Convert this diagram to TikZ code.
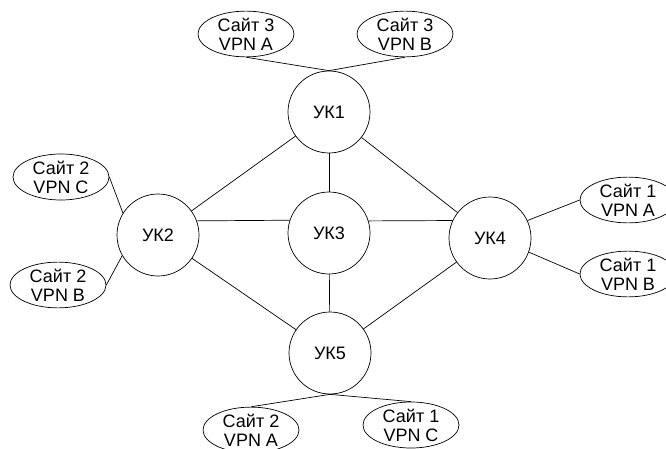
\documentclass[tikz,border=0pt]{standalone}
\usepackage{fontspec}
\setmainfont{Liberation Sans}
\usetikzlibrary{shapes.geometric}

\begin{document}
\begin{tikzpicture}[x=1pt, y=1pt, line width=0.7pt,
    router/.style = {draw, circle, minimum size=82pt, inner sep=0pt,
                     font=\fontsize{18}{19}\selectfont},
    site/.style = {draw, ellipse, minimum width=96pt, minimum height=40pt,
                   inner sep=0pt, align=center,
                   font=\fontsize{18}{19}\selectfont}]
  \useasboundingbox (0,0) rectangle (666,448);

  \node[router] (uk1) at (329,336) {УК1};
  \node[router] (uk2) at (158,213) {УК2};
  \node[router] (uk3) at (329,215) {УК3};
  \node[router] (uk4) at (490,210) {УК4};
  \node[router] (uk5) at (330,95) {УК5};

  \node[site] (s3a) at (246,414) {Сайт 3\\VPN A};
  \node[site] (s3b) at (405,414) {Сайт 3\\VPN B};
  \node[site] (s2c) at (61,271) {Сайт 2\\VPN C};
  \node[site] (s2b) at (58,163) {Сайт 2\\VPN B};
  \node[site] (s1a) at (628,248) {Сайт 1\\VPN A};
  \node[site] (s1b) at (628,174) {Сайт 1\\VPN B};
  \node[site] (s2a) at (251,18) {Сайт 2\\VPN A};
  \node[site] (s1c) at (411,23) {Сайт 1\\VPN C};

  \draw (uk1) -- (uk2);
  \draw (uk1) -- (uk3);
  \draw (uk1) -- (uk4);
  \draw (uk2.20) -- (uk3.162);
  \draw (uk3.17) -- (uk4.155);
  \draw (uk2) -- (uk5);
  \draw (uk3) -- (uk5);
  \draw (uk4) -- (uk5);

  \draw (s3a.south) -- (uk1.north);
  \draw (s3b.south) -- (uk1.north);
  \draw (s2c.east) -- (uk2.148);
  \draw (s2b.east) -- (uk2.210);
  \draw (s1a.west) -- (uk4.25);
  \draw (s1b.west) -- (uk4.-20);
  \draw (s2a.north) -- (uk5.south);
  \draw (s1c.north) -- (uk5.south);
\end{tikzpicture}
\end{document}
